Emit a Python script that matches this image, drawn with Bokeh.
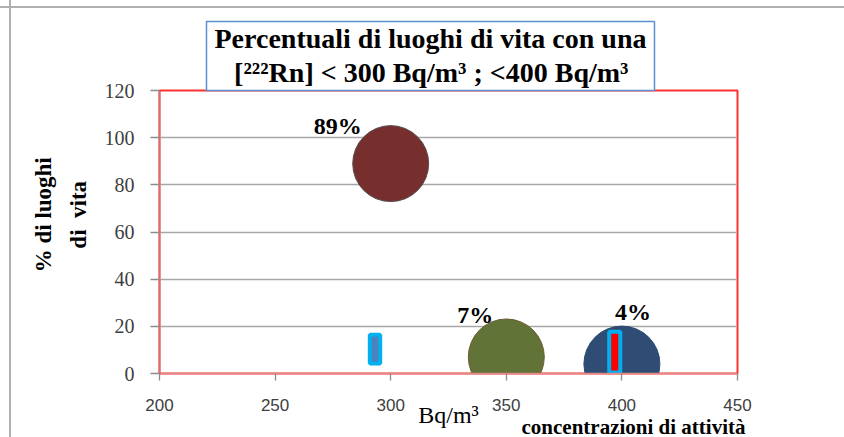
from math import pi
from bokeh.plotting import figure
from bokeh.models import ColumnDataSource, FixedTicker, Title
from bokeh.core.properties import value
from bokeh.embed import file_html
from bokeh.resources import INLINE

# ---- data ----
conc = [300, 350, 400]               # Bq/m3
perc = [89, 7, 4]                    # % di luoghi di vita
perc_labels = ["89%", "7%", "4%"]
colors = ["#772f2e", "#617337", "#2e4c74"]
edge_colors = ["#55504f", "#6f5a33", "#2e4c74"]
x_ticks = [200, 250, 300, 350, 400, 450]
y_ticks = [0, 20, 40, 60, 80, 100, 120]

# small marker boxes
box_left = [290.96, 394.5]
box_right = [295.46, 399.3]
box_bottom = [4.24, 0.4]
box_top = [16.4, 17.7]
box_fill = ["#4f81bd", "#ff0000"]

NB = "\u00a0"
title_line1 = "Percentuali di luoghi di vita con una"
title_line2 = "\u2002\u2009[²²²Rn] < 300 Bq/m³ ; <400 Bq/m³"
y_label_lines = [NB * 6 + "% di luoghi", NB * 6 + "di" + NB * 2 + "vita"]
x_label = "Bq/m³"
x_label2 = "concentrazioni di attività"

W, H = 844, 437
p = figure(width=W, height=H, x_range=(200, 450), y_range=(0, 120),
           output_backend="svg", toolbar_location=None,
           min_border_left=159, min_border_right=107,
           min_border_top=90, min_border_bottom=64)
p.background_fill_color = "white"
p.border_fill_color = None
p.styles = {
    "background-image": "linear-gradient(#b0b0b0,#b0b0b0), linear-gradient(#b0b0b0,#b0b0b0)",
    "background-size": "100% 2px, 2px 100%",
    "background-position": "0 6px, 9px 0",
    "background-repeat": "no-repeat",
    "background-color": "white",
}
p.outline_line_color = "#ff3030"
p.outline_line_width = 2

p.xgrid.grid_line_color = None
p.ygrid.grid_line_color = "#a6a6a6"
p.ygrid.grid_line_width = 1.3

p.xaxis.ticker = FixedTicker(ticks=x_ticks)
p.yaxis.ticker = FixedTicker(ticks=y_ticks)
p.xaxis.minor_tick_line_color = None
p.yaxis.minor_tick_line_color = None
p.xaxis.axis_line_color = "#e08a8a"
p.xaxis.axis_line_width = 1.5
p.yaxis.axis_line_color = "#d07070"
p.yaxis.axis_line_width = 1.5
for ax in (p.xaxis, p.yaxis):
    ax.major_tick_line_color = "#8c8c8c"
    ax.major_tick_line_width = 1.3
    ax.major_tick_in = 0
p.xaxis.major_tick_out = 7
p.yaxis.major_tick_out = 9
p.xaxis.major_label_text_font = "Liberation Sans"
p.xaxis.major_label_text_font_size = "17px"
p.xaxis.major_label_text_color = "#404040"
p.xaxis.major_label_standoff = 18
p.yaxis.major_label_text_font = "Liberation Serif"
p.yaxis.major_label_text_font_size = "20px"
p.yaxis.major_label_text_color = "#404040"
p.yaxis.major_label_standoff = 16

# axis titles
p.yaxis.axis_label = "\n".join(y_label_lines)
p.yaxis.axis_label_text_font = "Liberation Serif"
p.yaxis.axis_label_text_font_style = "bold"
p.yaxis.axis_label_text_font_size = "23px"
p.yaxis.axis_label_text_color = "black"
p.yaxis.axis_label_text_line_height = 1.4
p.yaxis.axis_label_standoff = 11

p.xaxis.axis_label = x_label
p.xaxis.axis_label_text_font = "Liberation Serif"
p.xaxis.axis_label_text_font_style = "normal"
p.xaxis.axis_label_text_font_size = "24px"
p.xaxis.axis_label_text_color = "black"
p.xaxis.axis_label_standoff = -12

src = ColumnDataSource(dict(x=conc, y=perc, c=colors, lc=edge_colors, t=perc_labels,
                            xo=[-53, -31, 11], yo=[-38, -42, -52]))
p.scatter("x", "y", source=src, size=76, fill_color="c", line_color="lc", line_width=1)
p.text("x", "y", text="t", source=src, x_offset="xo", y_offset="yo",
       text_font=value("Liberation Serif"), text_font_style="bold",
       text_font_size="24px", text_align="center", text_baseline="middle",
       text_color="black")

bsrc = ColumnDataSource(dict(l=box_left, r=box_right, b=box_bottom, t=box_top, f=box_fill))
p.quad(left="l", right="r", bottom="b", top="t", source=bsrc,
       fill_color="f", line_color="#00b0f0", line_width=4)

# chart title in a box
p.title = Title(text=title_line1 + "\n" + title_line2, align="left", offset=47,
                text_font="Liberation Serif", text_font_style="bold",
                text_font_size="28px", text_line_height=1.1, standoff=0,
                text_color="black",
                border_line_color="#5b8fd0", border_line_width=1.5,
                background_fill_color="white",
                padding=dict(top=2, bottom=2, left=8, right=8))

# second x title
p.add_layout(Title(text=x_label2, align="right", offset=-8, standoff=-31,
                   vertical_align="top",
                   text_font="Liberation Serif", text_font_style="bold",
                   text_font_size="21px", text_color="black"), "below")

open("out.html", "w").write(file_html(p, INLINE))
